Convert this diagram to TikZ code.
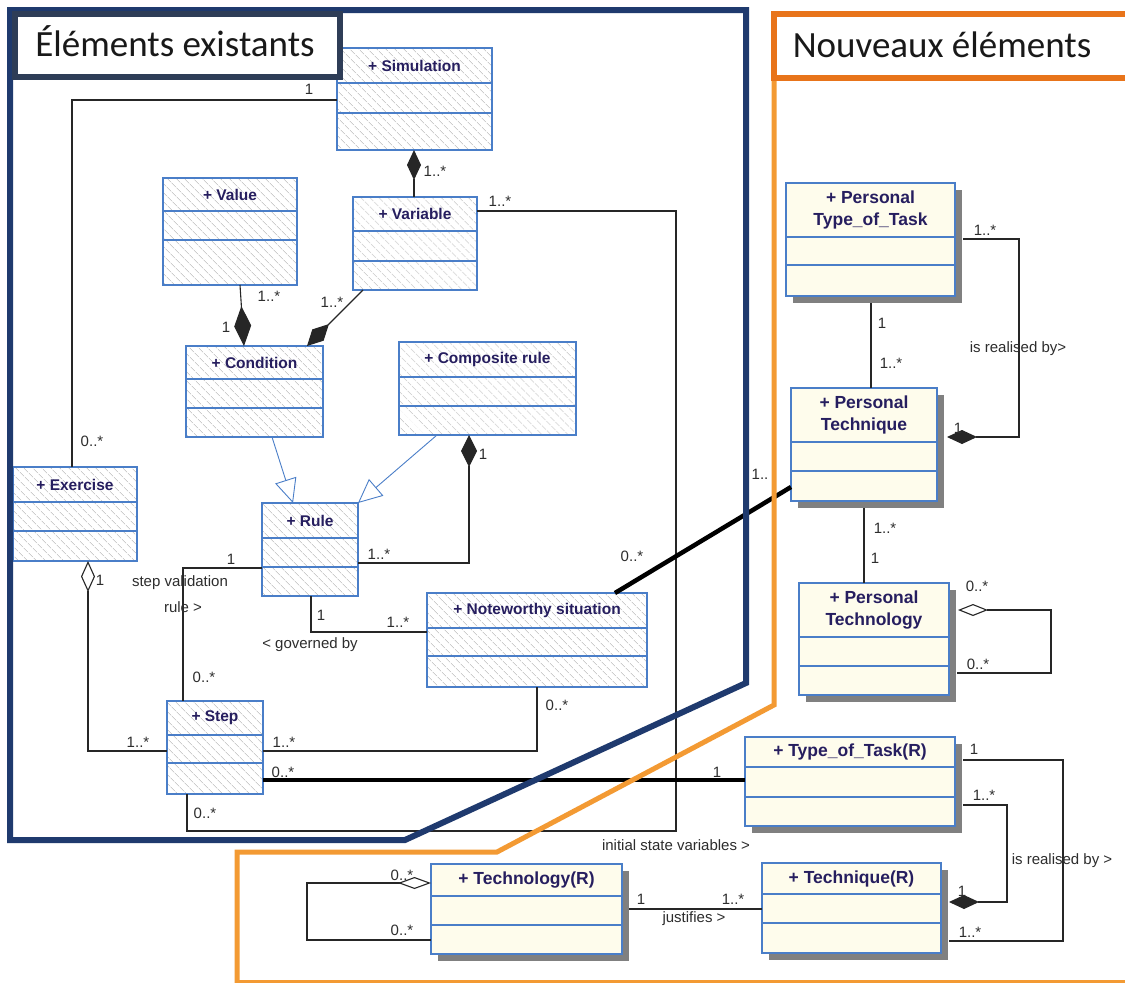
\documentclass[tikz,border=0pt]{standalone}
\usepackage{fontspec}
\setmainfont{Liberation Sans}
\newfontfamily\carl{Carlito}
\usetikzlibrary{arrows.meta,patterns.meta,calc}
\definecolor{navy}{RGB}{31,58,110}
\definecolor{slate}{RGB}{46,61,87}
\definecolor{orD}{RGB}{232,116,26}
\definecolor{orL}{RGB}{243,154,51}
\definecolor{umlblue}{RGB}{74,126,200}
\definecolor{ttl}{RGB}{38,30,95}
\definecolor{cream}{RGB}{254,252,236}
\definecolor{shad}{RGB}{128,128,128}
\definecolor{lbl}{RGB}{45,45,45}
\tikzset{
  hatchbox/.style={draw=umlblue, line width=1.1pt, inner sep=0pt, outer sep=0pt,
    pattern={Lines[angle=-45,distance=6.5pt,line width=0.5pt]}, pattern color=black!30},
  creambox/.style={draw=umlblue, line width=1.1pt, fill=cream, inner sep=0pt, outer sep=0pt},
  sepline/.style={draw=umlblue, line width=1.1pt},
  oldtitle/.style={font=\bfseries\fontsize{15.5}{18}\selectfont, text=ttl, inner sep=0pt},
  newtitle/.style={font=\bfseries\fontsize{17.5}{22}\selectfont, text=ttl, inner sep=0pt, align=center},
  conn/.style={draw=black!85, line width=1.1pt},
  thickconn/.style={draw=black, line width=4.5pt},
  gen/.style={draw=umlblue, line width=0.9pt, -{Triangle[length=24pt,width=22pt,fill=white]}},
  lab/.style={font=\fontsize{15}{17}\selectfont, text=lbl, inner sep=0pt},
  frametitle/.style={font=\carl\fontsize{37}{42}\selectfont, text=black!90, inner sep=0pt, anchor=base}
}
% name, x1, y1, x2, y2, ya, yb, title
\newcommand\oldcls[8]{%
  \node[hatchbox, minimum width={(#4-#2)*1pt}, minimum height={(#5-#3)*1pt}] (#1) at ({(#2+#4)/2},{(#3+#5)/2}) {};
  \draw[sepline] (#2,#6) -- (#4,#6) (#2,#7) -- (#4,#7);
  \node[oldtitle] (#1-t) at ({(#2+#4)/2},{(#3+#6)/2}) {#8};}
\newcommand\newcls[8]{%
  \fill[shad] ({#2+7},{#3+7}) rectangle ({#4+7},{#5+7});
  \node[creambox, minimum width={(#4-#2)*1pt}, minimum height={(#5-#3)*1pt}] (#1) at ({(#2+#4)/2},{(#3+#5)/2}) {};
  \draw[sepline] (#2,#6) -- (#4,#6) (#2,#7) -- (#4,#7);
  \node[newtitle] (#1-t) at ({(#2+#4)/2},{(#3+#6)/2}) {#8};}
\begin{document}
\begin{tikzpicture}[x=1pt,y=-1pt]
\useasboundingbox (0,0) rectangle (1125,983);
\fill[white] (0,0) rectangle (1125,983);

% ---------- classes (existing) ----------
\oldcls{sim}{337}{48}{492}{150}{83}{113}{+ Simulation}
\oldcls{var}{353}{197}{477}{290}{231}{261}{+ Variable}
\oldcls{val}{163}{178}{297}{285}{211}{240}{+ Value}
\oldcls{cond}{186}{346}{323}{437}{379}{408}{+ Condition}
\oldcls{ex}{13}{467}{137}{561}{502}{531}{+ Exercise}
\oldcls{rule}{262}{503}{358}{596}{538}{567}{+ Rule}
\oldcls{comp}{399}{342}{576}{435}{377}{406}{+ Composite rule}
\oldcls{note}{427}{593}{647}{687}{628}{656}{+ Noteworthy situation}
\oldcls{step}{167}{701}{263}{794}{735}{763}{+ Step}

% ---------- classes (new) ----------
\newcls{ptt}{786}{183}{955}{296}{237}{265}{+ Personal\\Type\_of\_Task}
\newcls{pt}{791}{388}{937}{501}{442}{471}{+ Personal\\Technique}
\newcls{ptg}{799}{583}{949}{695}{637}{666}{+ Personal\\Technology}
\newcls{ttr}{745}{737}{955}{826}{767}{797}{+ Type\_of\_Task(R)}
\newcls{tqr}{762}{863}{941}{953}{894}{923}{+ Technique(R)}
\newcls{tgr}{431}{864}{622}{954}{896}{925}{+ Technology(R)}

% ---------- connectors ----------
\draw[conn] ($(sim.north west)+(0,52)$) -| ($(ex.north west)+(59,0)$);
\draw[conn,{Diamond[length=30pt,width=14pt]}-] ($(sim.south west)+(77,0)$) -- ($(var.north west)+(61,0)$);
\draw[conn] ($(var.north east)+(0,14)$) -- ++(199,0) |- ($(step.south west)+(20,37)$) -- ($(step.south west)+(20,0)$);
\draw[conn,-{Diamond[length=40pt,width=17pt]}] ($(val.south west)+(77,0)$) -- ($(cond.north west)+(58,0)$);
\draw[conn,-{Diamond[length=31pt,width=16pt]}] ($(var.south west)+(10,0)$) -- ($(cond.north west)+(121,0)$);
\draw[gen] ($(cond.south west)+(86,0)$) -- ($(rule.north west)+(31,0)$);
\draw[gen] ($(comp.south west)+(38,0)$) -- (rule.north east);
\draw[conn,{Diamond[length=32pt,width=16pt]}-] ($(comp.south west)+(70,0)$) |- ($(rule.north east)+(0,60)$);
\draw[conn] ($(rule.north west)+(0,65)$) -| ($(step.north west)+(16,0)$);
\draw[conn] ($(rule.south west)+(49,0)$) |- ($(note.north west)+(0,39)$);
\draw[conn,{Diamond[length=31pt,width=14pt,fill=white]}-] ($(ex.south west)+(75,0)$) |- ($(step.north west)+(0,50)$);
\draw[conn] ($(note.south west)+(110,0)$) |- ($(step.north east)+(0,50)$);
\draw[thickconn] ($(step.north east)+(0,79)$) -- ($(ttr.north west)+(0,43)$);
\draw[thickconn] ($(note.north west)+(188,0)$) -- ($(pt.north west)+(0,99)$);
\draw[conn] ($(ptt.south west)+(85,7)$) -- ($(pt.north west)+(80,0)$);
\draw[conn,-{Diamond[length=30pt,width=14pt]}] ($(ptt.north east)+(8,56)$) -- ++(56,0) |- ($(pt.north east)+(10,49)$);
\draw[conn] ($(pt.south west)+(73,7)$) -- ($(ptg.north west)+(65,0)$);
\draw[conn,{Diamond[length=30pt,width=12pt,fill=white]}-] ($(ptg.north east)+(9,27)$) -- ++(93,0) |- ($(ptg.north east)+(8,90)$);
\draw[conn,-{Diamond[length=30pt,width=14pt]}] ($(ttr.north east)+(8,68)$) -- ++(44,0) |- ($(tqr.north east)+(8,39)$);
\draw[conn] ($(ttr.north east)+(8,23)$) -- ++(100,0) |- ($(tqr.north east)+(8,78)$);
\draw[conn,{Diamond[length=33pt,width=12pt,fill=white]}-] ($(tgr.north west)+(0,19)$) -- ++(-124,0) |- ($(tgr.north west)+(0,76)$);
\draw[conn] ($(tgr.north east)+(7,45)$) -- ($(tqr.north west)+(0,46)$);

% ---------- frames ----------
\draw[navy, line width=6pt, line join=miter] (10,10) -- (746,10) -- (746,683) -- (405,840) -- (10,840) -- cycle;
\draw[orL, line width=5pt, line join=miter] (1130,14) -- (774,14) -- (774,705) -- (497,852) -- (237,852) -- (237,990);
\draw[orL, line width=3pt] (237,981) -- (1130,981);
\fill[white] (774,14) rectangle (1130,78);
\draw[orD, line width=6pt, line join=miter] (1130,14) -- (774,14) -- (774,78) -- (1130,78);
\node[frametitle] (nt) at (942,57) {Nouveaux éléments};
\node[draw=slate, fill=white, line width=5.5pt, minimum width=325pt, minimum height=63pt, inner sep=0pt, outer sep=0pt] (et) at (177.5,45.5) {};
\node[frametitle] (ett) at (175,56) {Éléments existants};

% ---------- labels ----------
\node[lab] (m1) at (309,89) {1};
\node[lab] (m2) at (92,441) {0..*};
\node[lab] (m3) at (435,171) {1..*};
\node[lab] (m4) at (500,201) {1..*};
\node[lab] (m5) at (269,296) {1..*};
\node[lab] (m6) at (226,327) {1};
\node[lab] (m7) at (332,302) {1..*};
\node[lab] (m8) at (483,454) {1};
\node[lab] (m9) at (379,554) {1..*};
\node[lab] (m10) at (231,559) {1};
\node[lab] (m11) at (180,583) {step validation};
\node[lab] (m12) at (183,607) {rule >};
\node[lab] (m13) at (204,677) {0..*};
\node[lab] (m14) at (321,615) {1};
\node[lab] (m15) at (398,622) {1..*};
\node[lab] (m16) at (310,645) {< governed by};
\node[lab] (m17) at (100,580) {1};
\node[lab] (m18) at (138,742) {1..*};
\node[lab] (m19) at (284,742) {1..*};
\node[lab] (m20) at (557,705) {0..*};
\node[lab] (m21) at (283,772) {0..*};
\node[lab] (m22) at (717,772) {1};
\node[lab] (m23) at (205,813) {0..*};
\node[lab] (m24) at (676,845) {initial state variables >};
\node[lab] (m25) at (632,556) {0..*};
\node[lab] (m26) at (760,474) {1..};
\node[lab] (m27) at (882,323) {1};
\node[lab] (m28) at (891,363) {1..*};
\node[lab] (m29) at (985,230) {1..*};
\node[lab] (m30) at (1018,349) {is realised by>};
\node[lab] (m31) at (958,428) {1};
\node[lab] (m32) at (885,528) {1..*};
\node[lab] (m33) at (875,558) {1};
\node[lab] (m34) at (977,586) {0..*};
\node[lab] (m35) at (978,664) {0..*};
\node[lab] (m36) at (974,749) {1};
\node[lab] (m37) at (984,795) {1..*};
\node[lab] (m38) at (1062,861) {is realised by >};
\node[lab] (m39) at (962,891) {1};
\node[lab] (m40) at (970,932) {1..*};
\node[lab] (m41) at (402,875) {0..*};
\node[lab] (m42) at (402,930) {0..*};
\node[lab] (m43) at (641,899) {1};
\node[lab] (m44) at (733,899) {1..*};
\node[lab] (m45) at (694,919) {justifies >};
\end{tikzpicture}
\end{document}
